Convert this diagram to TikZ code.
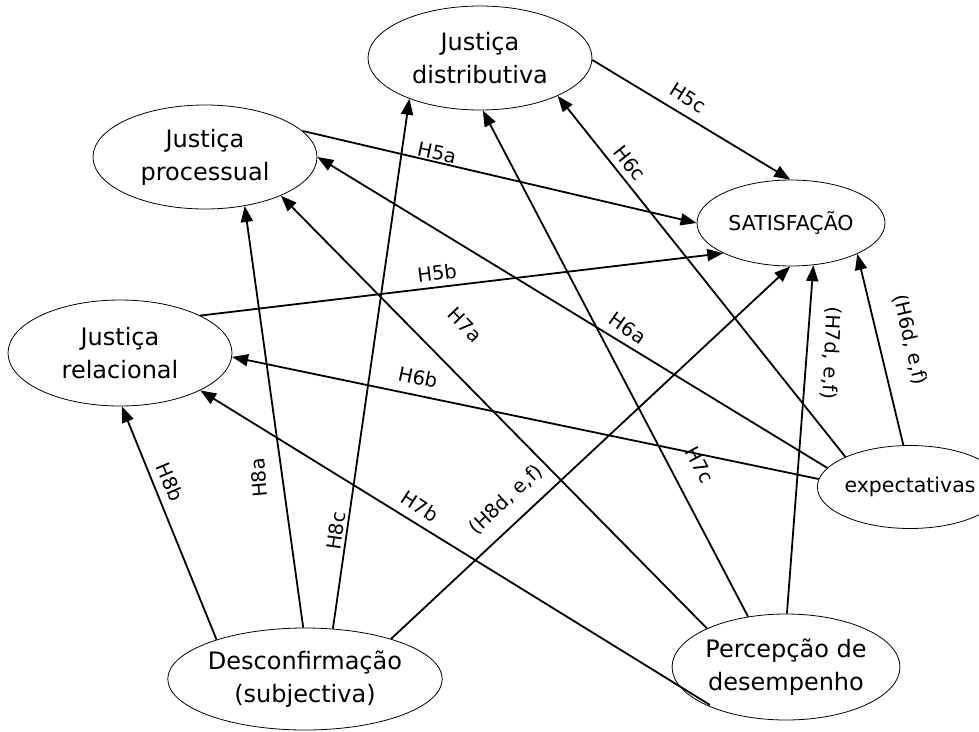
\documentclass[tikz,border=0pt]{standalone}
\usepackage{fontspec}
\setmainfont{DejaVu Sans}
\usetikzlibrary{shapes.geometric,arrows.meta}
\begin{document}
\begin{tikzpicture}[x=1pt,y=-1pt,
  construct/.style={draw, ellipse, inner sep=0pt, line width=0.8pt, align=center,
    font=\fontsize{24}{33}\selectfont},
  smallconstruct/.style={construct, font=\fontsize{20.5}{24}\selectfont},
  link/.style={line width=1.8pt, -{Triangle[length=16pt,width=12pt]}},
  hyp/.style={font=\fontsize{19.5}{23}\selectfont, inner sep=0pt}]
\useasboundingbox (0,0) rectangle (979,731);
\clip (0,0) rectangle (979,731);

% constructs
\node[construct, minimum width=224pt, minimum height=104pt] (dist) at (480,58) {Justiça\\distributiva};
\node[construct, minimum width=224pt, minimum height=104pt] (proc) at (205,157) {Justiça\\processual};
\node[smallconstruct, minimum width=188pt, minimum height=86pt] (sat) at (791,223) {SATISFAÇÃO};
\node[construct, minimum width=224pt, minimum height=106pt] (rel) at (120,353) {Justiça\\relacional};
\node[smallconstruct, minimum width=168pt, minimum height=83pt] (exp) at (910,487) {expectativas};
\node[construct, minimum width=226pt, minimum height=102pt] (desc) at (305,679) {Desconfirmação\\(subjectiva)};
\node[construct, minimum width=224pt, minimum height=106pt] (perc) at (786,667) {Percepção de\\desempenho};
\coordinate (percfoot) at (710,705);

% H5: justice -> satisfaction
\draw[link] (dist.-1) -- (sat.91);
\draw[link] (proc.15) -- (sat.180);
\draw[link] (rel.25) -- (sat.204);

% H6: expectations
\draw[link] (exp.155) -- (dist.-26);
\draw[link] (exp.167.5) -- (proc.-0.5);
\draw[link] (exp.175) -- (rel.-2);
\draw[link] (exp.99.5) -- (sat.-25.5);

% H7: perceived performance
\draw[link] (perc.154.6) -- (proc.-27);
\draw[link] (perc.127.8) -- (dist.-87);
\draw[link] (percfoot) -- (rel.-25.7);
\draw[link] (perc.89) -- (sat.-62.3);

% H8: disconfirmation
\draw[link] (desc.156.3) -- (rel.-88);
\draw[link] (desc.92.2) -- (proc.-51.6);
\draw[link] (desc.61) -- (dist.210);
\draw[link] (desc.25) -- (sat.-91);

% hypothesis labels
\node[hyp, rotate=-32] (l5c) at (688,98) {H5c};
\node[hyp, rotate=-12] (l5a) at (437,153) {H5a};
\node[hyp, rotate=7] (l5b) at (437,273) {H5b};
\node[hyp, rotate=-52] (l6c) at (630,163) {H6c};
\node[hyp, rotate=-35] (l6a) at (628,328) {H6a};
\node[hyp, rotate=-12] (l6b) at (418,377) {H6b};
\node[hyp, rotate=-77] (l6d) at (910,340) {(H6d, e,f)};
\node[hyp, rotate=-46] (l7a) at (465,325) {H7a};
\node[hyp, rotate=-62] (l7c) at (700,465) {H7c};
\node[hyp, rotate=-33] (l7b) at (420,506) {H7b};
\node[hyp, rotate=-93] (l7d) at (831,353) {(H7d, e,f)};
\node[hyp, rotate=-67] (l8b) at (170,482) {H8b};
\node[hyp, rotate=95] (l8a) at (259,478) {H8a};
\node[hyp, rotate=82] (l8c) at (336,531) {H8c};
\node[hyp, rotate=43] (l8d) at (506,500) {(H8d, e,f)};
\end{tikzpicture}
\end{document}
